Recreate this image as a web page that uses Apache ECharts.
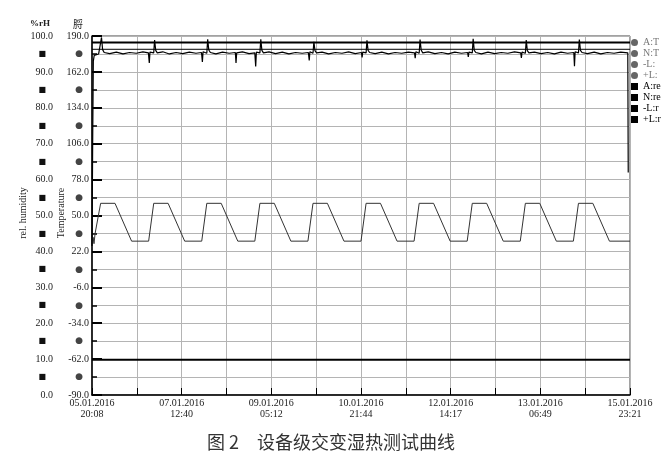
<!DOCTYPE html>
<html>
<head>
<meta charset="utf-8">
<script src="https://cdn.jsdelivr.net/npm/echarts@6/dist/echarts.min.js"></script>
<style>html,body{margin:0;padding:0;background:#fff;}#c{width:669px;height:459px;}</style>
</head>
<body>
<div id="c"></div>
<script>
// time axis: hours from 05.01.2016 20:08; tick labels every 40h32m
var xTickLabels = ['05.01.2016\n20:08', '07.01.2016\n12:40', '09.01.2016\n05:12', '10.01.2016\n21:44', '12.01.2016\n14:17', '13.01.2016\n06:49', '15.01.2016\n23:21'];
var seriesNames = ['A:Temperature', 'N:Temperature', '-L:Temperature', '+L:Temperature', 'A:rel. humidity', 'N:rel. humidity', '-L:rel. humidity', '+L:rel. humidity'];

// actual temperature [hour, degC]
var tempActual = [
  [0, 24], [0.5, 33], [0.9, 28], [1.4, 36], [3.9, 59.5],
  [10.4, 59.5], [17.9, 30], [25.6, 30], [27.9, 59.5],
  [34.4, 59.5], [41.9, 30], [49.6, 30], [51.9, 59.5],
  [58.4, 59.5], [65.9, 30], [73.6, 30], [75.9, 59.5],
  [82.4, 59.5], [89.9, 30], [97.6, 30], [99.9, 59.5],
  [106.4, 59.5], [113.9, 30], [121.6, 30], [123.9, 59.5],
  [130.4, 59.5], [137.9, 30], [145.6, 30], [147.9, 59.5],
  [154.4, 59.5], [161.9, 30], [169.6, 30], [171.9, 59.5],
  [178.4, 59.5], [185.9, 30], [193.6, 30], [195.9, 59.5],
  [202.4, 59.5], [209.9, 30], [217.6, 30], [219.9, 59.5],
  [226.4, 59.5], [233.9, 30], [243.2, 30]
];
var tempNominal = [];
var tempLower = [];
var tempUpper = [];

// actual relative humidity [hour, %rH]
var humActual = [
  [0, 41.5], [0.3, 70], [0.6, 93.0], [1.0, 94.6], [2.0, 94.8], [3.0, 95.0], [3.9, 95.2],
  [4.3, 99.6], [4.8, 96.2], [5.5, 95.4], [8.0, 95.1], [11.0, 95.5], [14.0, 95.0], [17.0, 95.4], [20.0, 95.2], [23.0, 95.6], [25.5, 95.3], [25.9, 92.5], [26.2, 95.5], [27.0, 95.7], [27.9, 95.3],
  [28.3, 98.9], [28.8, 96.0], [29.5, 95.3], [32, 95.6], [35, 95.0], [38, 95.4], [41, 95.1], [44, 95.5], [47, 95.2], [49.5, 95.4], [49.9, 92.8], [50.2, 95.6], [51.0, 95.6], [51.9, 95.2],
  [52.3, 99.1], [52.8, 96.1], [53.5, 95.4], [56, 95.0], [59, 95.5], [62, 95.2], [64.8, 95.4], [65.1, 92.5], [65.4, 95.3], [68, 95.6], [71, 95.1], [73.6, 95.3], [74.0, 91.5], [74.3, 95.5], [75.0, 95.7], [75.9, 95.3],
  [76.3, 99.1], [76.8, 96.0], [77.5, 95.3], [80, 95.6], [83, 95.1], [86, 95.5], [89, 95.0], [92, 95.4], [95, 95.2], [97.8, 95.4], [98.2, 93.2], [98.5, 95.6], [99.0, 95.5], [99.9, 95.2],
  [100.3, 98.4], [100.8, 95.9], [101.5, 95.3], [104, 95.5], [107, 95.0], [110, 95.4], [113, 95.2], [116, 95.6], [119, 95.1], [121.8, 95.4], [122.1, 94.0], [122.4, 95.5], [123.0, 95.6], [123.9, 95.3],
  [124.3, 98.8], [124.8, 96.0], [125.5, 95.4], [128, 95.1], [131, 95.5], [134, 95.0], [137, 95.4], [140, 95.2], [143, 95.5], [145.8, 95.3], [146.1, 93.8], [146.4, 95.6], [147.0, 95.5], [147.9, 95.2],
  [148.3, 99.0], [148.8, 96.1], [149.5, 95.3], [152, 95.6], [155, 95.1], [158, 95.4], [161, 95.0], [164, 95.5], [167, 95.2], [169.8, 95.4], [170.1, 94.2], [170.4, 95.5], [171.0, 95.6], [171.9, 95.3],
  [172.3, 99.2], [172.8, 96.0], [173.5, 95.4], [176, 95.0], [179, 95.5], [182, 95.1], [185, 95.4], [188, 95.2], [191, 95.6], [193.8, 95.3], [194.1, 93.9], [194.4, 95.5], [195.0, 95.6], [195.9, 95.2],
  [196.3, 98.9], [196.8, 95.9], [197.5, 95.3], [200, 95.5], [203, 95.1], [206, 95.4], [209, 95.0], [212, 95.5], [215, 95.2], [217.8, 95.4], [218.1, 91.6], [218.4, 95.6], [219.0, 95.5], [219.9, 95.3],
  [220.3, 99.0], [220.8, 96.0], [221.5, 95.4], [224, 95.1], [227, 95.5], [230, 95.0], [233, 95.4], [236, 95.2], [239, 95.5], [242.2, 95.3], [242.4, 62.0]
];
var humNominal = [[0, 96.3], [243.2, 96.3]];
var humLower = [[0, 9.8], [243.2, 9.8]];
var humUpper = [[0, 98.2], [243.2, 98.2]];

var TOTAL_MIN = 14592, STEP_MIN = 1216, T_OFFSET = 90;
var serif = 'Liberation Serif';

function toMin(arr) { return arr.map(function (p) { return [p[0] * 60, p[1]]; }); }
function toTempAxis(arr) { return arr.map(function (p) { return [p[0] * 60, p[1] + T_OFFSET]; }); }

var chart = echarts.init(document.getElementById('c'));
var tempColor = '#333', legTempColor = '#666';

function lineSeries(name, data, yIdx, color, width, z) {
  return { name: name, type: 'line', data: data, yAxisIndex: yIdx, showSymbol: false, symbol: 'none',
    lineStyle: { color: color, width: width }, itemStyle: { color: color }, animation: false, z: z };
}

var option = {
  animation: false,
  backgroundColor: '#fff',
  textStyle: { fontFamily: serif },
  grid: { left: 92, right: 39, top: 36, bottom: 64, show: true, borderColor: '#444', borderWidth: 1, backgroundColor: 'transparent' },
  legend: {
    orient: 'vertical', left: 631, top: 37, padding: 0, itemWidth: 7, itemHeight: 7, itemGap: 0,
    textStyle: { fontFamily: serif, fontSize: 10, lineHeight: 11, width: 19, overflow: 'truncate', ellipsis: '' },
    data: seriesNames.map(function (n, i) {
      var isT = i < 4;
      return { name: n, icon: isT ? 'circle' : 'rect',
        itemStyle: { color: isT ? legTempColor : '#000' },
        textStyle: { color: isT ? '#777' : '#000' } };
    })
  },
  xAxis: {
    type: 'value', min: 0, max: TOTAL_MIN, interval: STEP_MIN,
    axisLine: { lineStyle: { color: '#000', width: 1.5 } },
    axisTick: { inside: true, length: 7, lineStyle: { color: '#000', width: 1 } },
    axisLabel: { fontFamily: serif, fontSize: 10, lineHeight: 11, color: '#222', margin: 3, showMinLabel: true, showMaxLabel: true,
      formatter: function (v) { var i = Math.round(v / STEP_MIN); return (i % 2) ? '' : xTickLabels[i / 2]; } },
    splitLine: { show: true, lineStyle: { color: '#b4b4b4', width: 1 } }
  },
  yAxis: [
    { type: 'value', min: 0, max: 100, interval: 5, position: 'left',
      axisLine: { show: true, lineStyle: { color: '#000', width: 1.5 } }, axisTick: { show: false },
      splitLine: { show: true, lineStyle: { color: '#b4b4b4', width: 1 } },
      axisLabel: { fontFamily: serif, fontSize: 10, color: '#222', margin: 39,
        formatter: function (v) { return (Math.round(v) % 10 === 0) ? v.toFixed(1) : '{sq|■}'; },
        rich: { sq: { fontFamily: 'DejaVu Sans', fontSize: 8, color: '#111', padding: [0, 7, 0, 0] } } } },
    { type: 'value', min: 0, max: 280, interval: 14, position: 'left',
      axisLine: { show: false }, axisTick: { show: false }, splitLine: { show: false },
      axisLabel: { fontFamily: serif, fontSize: 10, color: '#222', margin: 3,
        formatter: function (v) { return (Math.round(v) % 28 === 0) ? (v - T_OFFSET).toFixed(1) : '{ci|●}'; },
        rich: { ci: { fontFamily: 'DejaVu Sans', fontSize: 9, color: '#444', padding: [0, 6, 0, 0] } } } },
    { type: 'value', min: 0, max: 100, interval: 10, position: 'left',
      axisLine: { show: false }, splitLine: { show: false }, axisLabel: { show: false },
      axisTick: { show: true, inside: true, length: 10, lineStyle: { color: '#000', width: 2 } },
      minorTick: { show: true, splitNumber: 2, length: 5, lineStyle: { color: '#000', width: 1.5 } } }
  ],
  series: [
    lineSeries(seriesNames[0], toTempAxis(tempActual), 1, tempColor, 1, 3),
    lineSeries(seriesNames[1], toTempAxis(tempNominal), 1, legTempColor, 1, 2),
    lineSeries(seriesNames[2], toTempAxis(tempLower), 1, legTempColor, 1, 2),
    lineSeries(seriesNames[3], toTempAxis(tempUpper), 1, legTempColor, 1, 2),
    lineSeries(seriesNames[4], toMin(humActual), 0, '#000', 1.2, 5),
    lineSeries(seriesNames[5], toMin(humNominal), 0, '#000', 1, 4),
    lineSeries(seriesNames[6], toMin(humLower), 0, '#000', 2, 4),
    lineSeries(seriesNames[7], toMin(humUpper), 0, '#000', 2, 4)
  ],
  graphic: [
    { type: 'text', x: 40, y: 24, style: { text: '%rH', font: 'bold 9px "Liberation Serif"', fill: '#222', textAlign: 'center', textVerticalAlign: 'middle' } },
    { type: 'text', x: 78, y: 24, style: { text: '脟', font: '10px "Noto Sans CJK SC"', fill: '#222', textAlign: 'center', textVerticalAlign: 'middle' } },
    { type: 'text', x: 23, y: 213, rotation: Math.PI / 2, style: { text: 'rel. humidity', font: '10px "Liberation Serif"', fill: '#222', textAlign: 'center', textVerticalAlign: 'middle' } },
    { type: 'text', x: 61, y: 213, rotation: Math.PI / 2, style: { text: 'Temperature', font: '10px "Liberation Serif"', fill: '#222', textAlign: 'center', textVerticalAlign: 'middle' } },
    { type: 'text', x: 207, y: 442, style: { text: '图 2　设备级交变湿热测试曲线', font: '18px "Noto Sans CJK SC"', fill: '#333', textAlign: 'left', textVerticalAlign: 'middle' } }
  ]
};
chart.setOption(option);
</script>
</body>
</html>
